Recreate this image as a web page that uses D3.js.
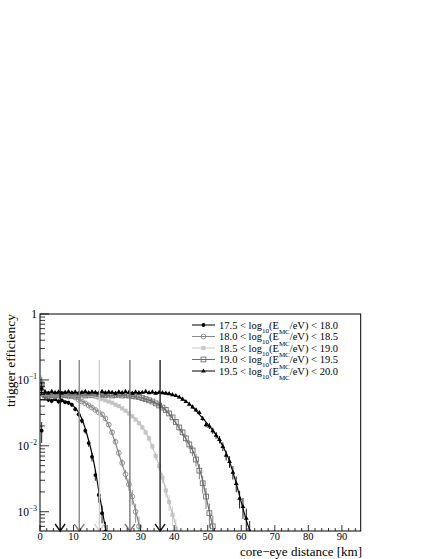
<!DOCTYPE html>
<html><head><meta charset="utf-8">
<script src="https://cdn.jsdelivr.net/npm/d3@7"></script>
<style>body{margin:0;background:#fff}svg{display:block}text{font-family:"Liberation Serif","Times New Roman",serif;fill:#000}</style>
</head><body><svg id="c" width="432" height="559"></svg>
<script>
// ---------------- data ----------------
const binCenters = [0.5,1.5,2.5,3.5,4.5,5.5,6.5,7.5,8.5,9.5,10.5,11.5,12.5,13.5,14.5,15.5,16.5,17.5,18.5,19.5,
  20.5,21.5,22.5,23.5,24.5,25.5,26.5,27.5,28.5,29.5,30.5,31.5,32.5,33.5,34.5,35.5,36.5,37.5,38.5,39.5,
  40.5,41.5,42.5,43.5,44.5,45.5,46.5,47.5,48.5,49.5,50.5,51.5,52.5,53.5,54.5,55.5,56.5,57.5,58.5,59.5,
  60.5,61.5,62.5];

const legendLo = ["17.5","18.0","18.5","19.0","19.5"];
const legendHi = ["18.0","18.5","19.0","19.5","20.0"];

const s1 = [0.017,0.056,0.050,0.048,0.051,0.047,0.049,0.046,0.045,0.042,0.036,0.030,0.024,0.017,0.011,0.0068,0.0036,0.0018,0.00095,0.0005];
const s1Err = [0.35,0.12,0.08,0.08,0.07,0.07,0.07,0.07,0.07,0.07,0.08,0.08,0.09,0.10,0.12,0.15,0.18,0.24,0.30,0.40];

const s2 = [0.080,0.060,0.055,0.058,0.056,0.059,0.057,0.058,0.056,0.057,0.054,0.050,0.047,0.044,0.041,0.038,0.035,0.032,0.030,0.026,
  0.021,0.016,0.0115,0.0078,0.0055,0.0037,0.0026,0.0017,0.0010,0.0006];
const s2Err = [0.30,0.10,0.07,0.06,0.06,0.06,0.06,0.06,0.06,0.06,0.06,0.06,0.06,0.06,0.06,0.06,0.06,0.07,0.07,0.07,
  0.08,0.09,0.10,0.12,0.14,0.17,0.20,0.25,0.32,0.40];

const s3 = [0.090,0.062,0.058,0.060,0.057,0.059,0.058,0.060,0.057,0.059,0.058,0.057,0.059,0.058,0.057,0.057,0.055,0.053,0.051,0.049,
  0.047,0.045,0.042,0.040,0.037,0.034,0.031,0.028,0.025,0.022,0.019,0.016,0.013,0.0098,0.0070,0.0049,0.0033,0.0021,0.0014,0.0009,0.00055];
const s3Err = [0.30,0.10,0.07,0.06,0.06,0.06,0.06,0.06,0.06,0.06,0.06,0.06,0.06,0.06,0.06,0.06,0.06,0.06,0.06,0.06,
  0.06,0.06,0.06,0.06,0.06,0.06,0.07,0.07,0.07,0.08,0.08,0.09,0.10,0.11,0.13,0.15,0.18,0.22,0.27,0.33,0.40];

const s4 = [0.085,0.058,0.061,0.059,0.060,0.058,0.061,0.059,0.060,0.058,0.060,0.059,0.061,0.058,0.060,0.059,0.060,0.058,0.061,0.059,
  0.060,0.058,0.059,0.060,0.058,0.059,0.058,0.057,0.056,0.055,0.053,0.051,0.049,0.047,0.044,0.041,0.038,0.035,0.031,0.027,
  0.023,0.019,0.016,0.013,0.0105,0.0085,0.0062,0.0042,0.0027,0.0017,0.00095,0.0006];
const s4Err = [0.30,0.10,0.07,0.05,0.05,0.05,0.05,0.05,0.05,0.05,0.05,0.05,0.05,0.05,0.05,0.05,0.05,0.05,0.05,0.05,
  0.05,0.05,0.05,0.05,0.05,0.05,0.05,0.05,0.05,0.05,0.05,0.05,0.05,0.05,0.05,0.06,0.06,0.07,0.07,0.08,
  0.09,0.10,0.11,0.13,0.15,0.18,0.22,0.26,0.30,0.35,0.40,0.45];

const s5 = [0.075,0.066,0.063,0.067,0.064,0.066,0.063,0.065,0.067,0.064,0.066,0.063,0.065,0.067,0.064,0.066,0.065,0.063,0.067,0.064,
  0.066,0.065,0.063,0.066,0.064,0.067,0.065,0.063,0.066,0.064,0.065,0.067,0.064,0.066,0.063,0.065,0.064,0.063,0.062,0.060,
  0.058,0.055,0.051,0.047,0.043,0.039,0.035,0.032,0.026,0.021,0.020,0.017,0.0145,0.0125,0.0098,0.0072,0.0058,0.0040,0.0027,0.0016,
  0.0012,0.0008,0.0005];
const s5Err = [0.25,0.08,0.06,0.05,0.05,0.05,0.05,0.05,0.05,0.05,0.05,0.05,0.05,0.05,0.05,0.05,0.05,0.05,0.05,0.05,
  0.05,0.05,0.05,0.05,0.05,0.05,0.05,0.05,0.05,0.05,0.05,0.05,0.05,0.05,0.05,0.05,0.05,0.05,0.05,0.05,
  0.05,0.05,0.05,0.05,0.05,0.06,0.06,0.07,0.08,0.09,0.10,0.11,0.12,0.13,0.15,0.17,0.20,0.23,0.27,0.30,
  0.35,0.40,0.45];

// fitted curves (knots)
const fit1X = [0,5,8,10,12,14,16,18,19.7];
const fit1Y = [0.050,0.049,0.046,0.040,0.029,0.015,0.0058,0.0015,0.0005];
const fit2X = [0,8,10,12,14,16,18,20,22,24,26,28,30];
const fit2Y = [0.058,0.057,0.054,0.049,0.043,0.037,0.031,0.023,0.013,0.0063,0.0030,0.0013,0.0005];
const fit3X = [0,14,17,20,23,26,28,30,32,34,36,38,40,41];
const fit3Y = [0.058,0.057,0.054,0.048,0.041,0.033,0.027,0.021,0.0145,0.0083,0.0041,0.0017,0.00075,0.0005];
const fit4X = [0,25,28,31,34,37,40,42,44,46,48,50,51.8];
const fit4Y = [0.059,0.058,0.056,0.052,0.046,0.037,0.024,0.017,0.0115,0.0075,0.0037,0.0013,0.0005];
const fit5X = [0,36,39,42,45,48,51,54,56,58,60,62,62.8];
const fit5Y = [0.064,0.064,0.061,0.053,0.041,0.028,0.0185,0.011,0.0068,0.0033,0.0014,0.00062,0.0005];

const arrowKm = [6.0,11.7,17.7,26.8,35.8];
const arrowTop = 0.2;

const xTicks = [0,10,20,30,40,50,60,70,80,90];
const yDecades = [1,0.1,0.01,0.001];
const yLabelExp = ["","\u22121","\u22122","\u22123"];

// ---------------- styles ----------------
const seriesColor = ["#000","#888","#c8c8c8","#6e6e6e","#000"];
const markerType = ["dot","circle","square","osquare","tri"];
const arrowColor = ["#111","#888","#cfcfcf","#777","#222"];

const svg = d3.select("#c");
svg.append("rect").attr("width",432).attr("height",559).attr("fill","#fff");

const x = d3.scaleLinear().domain([0,95.6]).range([40,360.7]);
const y = d3.scaleLog().domain([5.1e-4,1]).range([531,314]);

svg.append("defs").append("clipPath").attr("id","clip")
  .append("rect").attr("x",x(0)).attr("y",y(1)).attr("width",x(95.6)-x(0)).attr("height",y(5.1e-4)-y(1));

const plot = svg.append("g").attr("clip-path","url(#clip)");

const series = [
  {y:s1,e:s1Err,fx:fit1X,fy:fit1Y},
  {y:s2,e:s2Err,fx:fit2X,fy:fit2Y},
  {y:s3,e:s3Err,fx:fit3X,fy:fit3Y},
  {y:s4,e:s4Err,fx:fit4X,fy:fit4Y},
  {y:s5,e:s5Err,fx:fit5X,fy:fit5Y}
];

function drawMarker(g, type, cx, cy, col){
  if(type==="dot") g.append("circle").attr("cx",cx).attr("cy",cy).attr("r",1.9).attr("fill",col);
  else if(type==="circle") g.append("circle").attr("cx",cx).attr("cy",cy).attr("r",2.4).attr("fill","none").attr("stroke",col).attr("stroke-width",0.9);
  else if(type==="square") g.append("rect").attr("x",cx-2.1).attr("y",cy-2.1).attr("width",4.2).attr("height",4.2).attr("fill",col);
  else if(type==="osquare") g.append("rect").attr("x",cx-2.4).attr("y",cy-2.4).attr("width",4.8).attr("height",4.8).attr("fill","none").attr("stroke",col).attr("stroke-width",0.9);
  else if(type==="tri") g.append("path").attr("d",`M${cx},${cy-2.6}L${cx+2.4},${cy+1.6}L${cx-2.4},${cy+1.6}Z`).attr("fill",col);
}

const line = d3.line().x(d=>x(d[0])).y(d=>y(d[1])).curve(d3.curveMonotoneX);

series.forEach((s,i)=>{
  const col = seriesColor[i];
  const g = plot.append("g");
  s.y.forEach((v,j)=>{
    const lo = Math.max(v*(1-s.e[j]),1e-5), hi = v*(1+s.e[j]);
    g.append("line").attr("x1",x(binCenters[j])).attr("x2",x(binCenters[j]))
      .attr("y1",y(lo)).attr("y2",y(hi)).attr("stroke",col).attr("stroke-width",0.9);
  });
  s.y.forEach((v,j)=>drawMarker(g, markerType[i], x(binCenters[j]), y(v), col));
});
series.forEach((s,i)=>{
  plot.append("path").datum(s.fx.map((d,k)=>[d,s.fy[k]])).attr("d",line)
    .attr("fill","none").attr("stroke",i===2?"#c0c0c0":seriesColor[i]).attr("stroke-width",1.2);
});

// arrows
arrowKm.forEach((k,i)=>{
  const ax = x(k), yb = y(5.1e-4);
  svg.append("line").attr("x1",ax).attr("x2",ax).attr("y1",y(arrowTop)).attr("y2",yb)
    .attr("stroke",arrowColor[i]).attr("stroke-width",1.4);
  svg.append("path").attr("d",`M${ax-5},${yb-7}L${ax},${yb}L${ax+5},${yb-7}`)
    .attr("fill","none").attr("stroke",arrowColor[i]).attr("stroke-width",1.4);
});

// frame
svg.append("rect").attr("x",x(0)).attr("y",y(1)).attr("width",x(95.6)-x(0)).attr("height",y(5.1e-4)-y(1))
  .attr("fill","none").attr("stroke","#000").attr("stroke-width",1);

// x ticks (major 10, minor 2)
const xb = y(5.1e-4);
d3.range(0,95.6,2).forEach(t=>{
  const major = (t%10===0);
  svg.append("line").attr("x1",x(t)).attr("x2",x(t)).attr("y1",xb).attr("y2",xb-(major?6:3))
    .attr("stroke","#000").attr("stroke-width",0.8);
});
xTicks.forEach(t=>{
  svg.append("text").attr("x",x(t)).attr("y",xb+9).attr("text-anchor","middle").attr("font-size",10.5).text(t);
});

// y ticks (log)
yDecades.forEach(dec=>{
  svg.append("line").attr("x1",x(0)).attr("x2",x(0)+9).attr("y1",y(dec)).attr("y2",y(dec)).attr("stroke","#000").attr("stroke-width",0.8);
});
[0.0001,0.001,0.01,0.1].forEach(dec=>{
  [2,3,4,5,6,7,8,9].forEach(m=>{
    const v = dec*m;
    if(v<5.1e-4||v>1) return;
    svg.append("line").attr("x1",x(0)).attr("x2",x(0)+5).attr("y1",y(v)).attr("y2",y(v)).attr("stroke","#000").attr("stroke-width",0.8);
  });
});
yDecades.forEach((dec,i)=>{
  const t = svg.append("text").attr("x",37).attr("y",y(dec)+4).attr("text-anchor","end").attr("font-size",11.5);
  if(yLabelExp[i]===""){ t.text("1"); }
  else { t.append("tspan").text("10"); t.append("tspan").attr("font-size",7.5).attr("dy",-5).text(yLabelExp[i]); }
});

// axis titles
svg.append("text").attr("transform",`translate(15,${y(1)}) rotate(-90)`).attr("text-anchor","end").attr("font-size",13.5).text("trigger efficiency");
svg.append("text").attr("x",362).attr("y",555.5).attr("text-anchor","end").attr("font-size",13).text("core\u2212eye distance [km]");

// legend
legendLo.forEach((lo,i)=>{
  const ly = 325 + i*11.5;
  const col = seriesColor[i];
  svg.append("line").attr("x1",192).attr("x2",215).attr("y1",ly).attr("y2",ly).attr("stroke",col).attr("stroke-width",1);
  drawMarker(svg, markerType[i], 203.5, ly, col);
  const t = svg.append("text").attr("x",219).attr("y",ly+3.5).attr("font-size",10.5);
  t.append("tspan").text(lo+" < log");
  t.append("tspan").attr("font-size",7).attr("dy",4).text("10");
  t.append("tspan").attr("dy",-4).text("(E");
  t.append("tspan").attr("font-size",7).attr("dy",5.5).text("MC");
  t.append("tspan").attr("dy",-5.5).text("/eV) < "+legendHi[i]);
});
</script></body></html>
